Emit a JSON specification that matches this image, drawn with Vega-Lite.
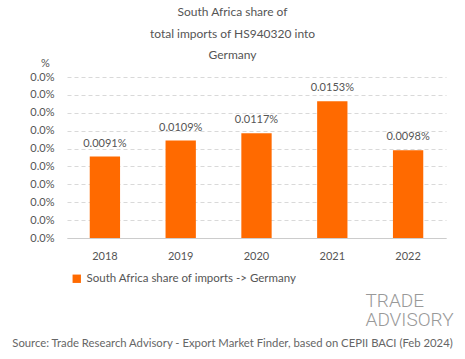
{
  "$schema": "https://vega.github.io/schema/vega-lite/v6.json",
  "width": 379,
  "height": 161,
  "autosize": {"type": "none"},
  "padding": {"left": 67, "top": 77, "right": 19, "bottom": 121},
  "background": "white",
  "config": {"view": {"stroke": null}, "font": "Lato"},
  "title": {
    "text": ["South Africa share of", "total imports of HS940320 into", "Germany"],
    "fontSize": 12,
    "fontWeight": "normal",
    "color": "#555555",
    "lineHeight": 21.5,
    "anchor": "middle",
    "frame": "group",
    "dx": -24,
    "offset": -5
  },
  "data": {
    "values": [
      {"year": "2018", "share": 0.000091},
      {"year": "2019", "share": 0.000109},
      {"year": "2020", "share": 0.000117},
      {"year": "2021", "share": 0.000153},
      {"year": "2022", "share": 0.000098}
    ]
  },
  "layer": [
    {
      "encoding": {
        "x": {
          "field": "year",
          "type": "nominal",
          "scale": {"paddingInner": 0.6, "paddingOuter": 0.3},
          "axis": {
            "labelAngle": 0,
            "labelFontSize": 11,
            "labelColor": "#555555",
            "labelPadding": 12,
            "ticks": false,
            "domainColor": "#cccccc",
            "title": "Source: Trade Research Advisory - Export Market Finder, based on CEPII BACI (Feb 2024)",
            "titleFontSize": 11.3,
            "titleFontWeight": "normal",
            "titleColor": "#666666",
            "titleX": 165,
            "titleY": 105,
            "titleAlign": "center",
            "titleBaseline": "middle",
            "titleLimit": 0
          }
        },
        "y": {
          "field": "share",
          "type": "quantitative",
          "scale": {"domain": [0, 0.00018], "nice": false},
          "axis": {
            "values": [0, 0.00002, 0.00004, 0.00006, 0.00008, 0.0001, 0.00012, 0.00014, 0.00016, 0.00018],
            "format": ".1%",
            "labelFontSize": 11,
            "labelColor": "#555555",
            "labelPadding": 13,
            "labelOverlap": false,
            "ticks": false,
            "domain": false,
            "gridDash": [4, 3],
            "gridColor": "#d9d9d9",
            "title": "%",
            "titleAngle": 0,
            "titleFontSize": 11,
            "titleFontWeight": "normal",
            "titleColor": "#555555",
            "titleX": -22,
            "titleY": -14,
            "titleAlign": "center",
            "titleBaseline": "middle"
          }
        }
      },
      "layer": [
        {
          "mark": {"type": "bar"},
          "encoding": {
            "color": {
              "datum": "South Africa share of imports -> Germany",
              "type": "nominal",
              "scale": {"range": ["#ff6a00"]},
              "legend": {
                "title": null,
                "orient": "none",
                "legendX": 4,
                "legendY": 196,
                "symbolType": "square",
                "symbolSize": 70,
                "labelFontSize": 11.5,
                "labelColor": "#555555",
                "labelLimit": 0
              }
            }
          }
        },
        {
          "mark": {"type": "text", "baseline": "bottom", "dy": -8, "fontSize": 11, "color": "#555555"},
          "encoding": {
            "text": {"field": "share", "type": "quantitative", "format": ".4%"}
          }
        }
      ]
    },
    {
      "mark": {"type": "text", "opacity": 0},
      "encoding": {
        "x": {"field": "year", "type": "nominal"},
        "y": {
          "field": "share",
          "type": "quantitative",
          "axis": {
            "orient": "right",
            "labels": false,
            "ticks": false,
            "domain": false,
            "grid": false,
            "title": ["TRADE", "ADVISORY"],
            "titleFont": "Roboto",
            "titleFontSize": 19,
            "titleFontWeight": 300,
            "titleColor": "#999999",
            "titleLineHeight": 19,
            "titleAngle": 0,
            "titleAlign": "left",
            "titleBaseline": "alphabetic",
            "titleX": -81,
            "titleY": 229,
            "titleLimit": 0
          }
        },
        "text": {"value": ""}
      }
    }
  ],
  "resolve": {"scale": {"y": "independent"}}
}
